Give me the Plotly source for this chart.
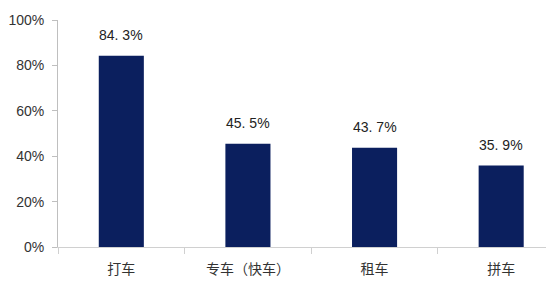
import plotly.graph_objects as go

categories = ["打车", "专车（快车）", "租车", "拼车"]
values = [84.3, 45.5, 43.7, 35.9]
labels = ["84. 3%", "45. 5%", "43. 7%", "35. 9%"]
y_ticks = [0, 20, 40, 60, 80, 100]
y_tick_text = ["0%", "20%", "40%", "60%", "80%", "100%"]

fig = go.Figure(go.Bar(
    x=categories, y=values,
    marker=dict(color="#0B1F5E", line=dict(width=0)),
    width=0.356,
))
for c, v, t in zip(categories, values, labels):
    fig.add_annotation(x=c, y=v, text=t, showarrow=False, yanchor="bottom",
                       yshift=11,
                       font=dict(family="Liberation Sans, Arial", size=14, color="#222222"))

fig.update_layout(
    width=546, height=288,
    margin=dict(l=58, r=0, t=20, b=41),
    paper_bgcolor="white", plot_bgcolor="white",
    showlegend=False,
)
fig.update_xaxes(
    range=[-0.5, 3.354], showline=True, linecolor="#D0D0D0", linewidth=1,
    ticks="outside", tickson="boundaries", ticklen=6, tickcolor="#D0D0D0",
    tickfont=dict(family="Noto Sans CJK SC", size=14, color="#333333"),
    ticklabelstandoff=9,
    showgrid=False,
)
fig.update_yaxes(
    range=[0, 100], tickvals=y_ticks, ticktext=y_tick_text,
    showline=True, linecolor="#BFBFBF", linewidth=1,
    ticks="outside", ticklen=5, tickcolor="#BFBFBF",
    tickfont=dict(family="Liberation Sans, Arial", size=14, color="#333333"),
    ticklabelstandoff=5,
    showgrid=False, zeroline=False,
)

fig.write_html("out.html")
